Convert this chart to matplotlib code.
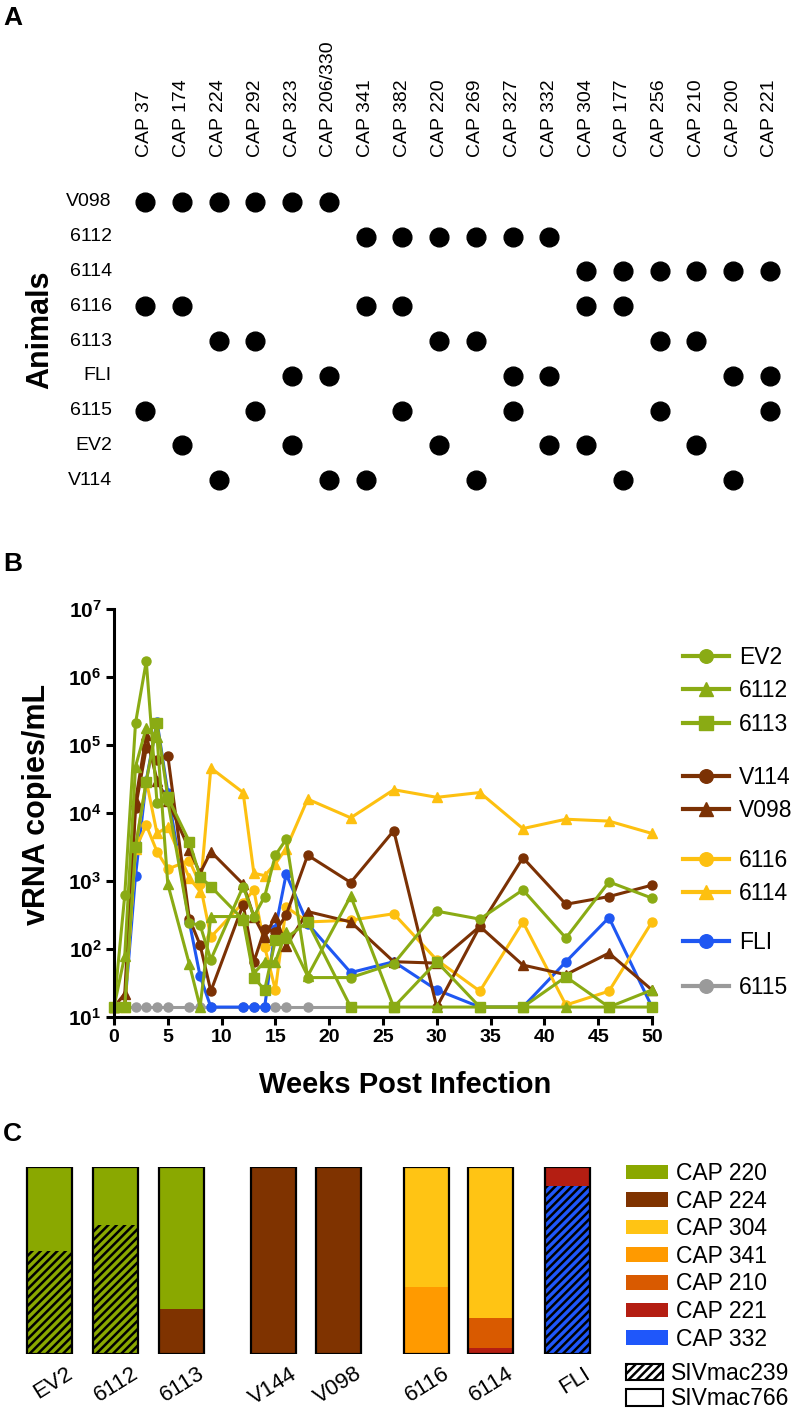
import matplotlib
matplotlib.use('Agg')
import matplotlib.pyplot as plt
from matplotlib.patches import Patch

plt.rcParams['font.family'] = ['Liberation Sans', 'DejaVu Sans']
plt.rcParams['mathtext.fontset'] = 'custom'
plt.rcParams['mathtext.rm'] = 'Liberation Sans'
plt.rcParams['mathtext.bf'] = 'Liberation Sans:bold'
plt.rcParams['hatch.linewidth'] = 1.8

# ---------------- panel A data ----------------
caps = ['CAP 37', 'CAP 174', 'CAP 224', 'CAP 292', 'CAP 323', 'CAP 206/330',
        'CAP 341', 'CAP 382', 'CAP 220', 'CAP 269', 'CAP 327', 'CAP 332',
        'CAP 304', 'CAP 177', 'CAP 256', 'CAP 210', 'CAP 200', 'CAP 221']
animals = ['V098', '6112', '6114', '6116', '6113', 'FLI', '6115', 'EV2', 'V114']
caps_v098 = ['CAP 37', 'CAP 174', 'CAP 224', 'CAP 292', 'CAP 323', 'CAP 206/330']
caps_6112 = ['CAP 341', 'CAP 382', 'CAP 220', 'CAP 269', 'CAP 327', 'CAP 332']
caps_6114 = ['CAP 304', 'CAP 177', 'CAP 256', 'CAP 210', 'CAP 200', 'CAP 221']
caps_6116 = ['CAP 37', 'CAP 174', 'CAP 341', 'CAP 382', 'CAP 304', 'CAP 177']
caps_6113 = ['CAP 224', 'CAP 292', 'CAP 220', 'CAP 269', 'CAP 256', 'CAP 210']
caps_fli = ['CAP 323', 'CAP 206/330', 'CAP 327', 'CAP 332', 'CAP 200', 'CAP 221']
caps_6115 = ['CAP 37', 'CAP 292', 'CAP 382', 'CAP 327', 'CAP 256', 'CAP 221']
caps_ev2 = ['CAP 174', 'CAP 323', 'CAP 220', 'CAP 332', 'CAP 304', 'CAP 210']
caps_v114 = ['CAP 224', 'CAP 206/330', 'CAP 341', 'CAP 269', 'CAP 177', 'CAP 200']
received = [caps_v098, caps_6112, caps_6114, caps_6116, caps_6113,
            caps_fli, caps_6115, caps_ev2, caps_v114]

# ---------------- panel B data ----------------
weeks = [0, 1, 2, 3, 4, 5, 7, 8, 9, 12, 13, 14, 15, 16, 18, 22, 26, 30, 34, 38, 42, 46, 50]
weeks_6115 = [0, 1, 2, 3, 4, 5, 7, 8, 9, 12, 13, 14, 15, 16, 18, 22]
vl_ev2 = [14, 620, 2.1e5, 1.7e6, 1.4e4, 1.5e4, 240, 225, 70, 830, 300, 590, 2400, 4100,
          38, 38, 61, 360, 275, 740, 145, 970, 560]
vl_6112 = [14, 80, 4.8e4, 1.8e5, 1.3e5, 900, 60, 14, 300, 300, 44, 65, 65, 180,
           40, 600, 14, 14, 14, 14, 14, 14, 25]
vl_6113 = [14, 14, 3200, 2.9e4, 2.1e5, 1.7e4, 3800, 1150, 830, 270, 38, 25, 135, 145,
           250, 14, 14, 65, 14, 14, 39, 14, 14]
vl_v114 = [14, 14, 1.2e4, 9e4, 6e4, 7e4, 280, 115, 24, 450, 65, 195, 180, 316,
           2400, 950, 5500, 14, 215, 2200, 455, 590, 870]
vl_v098 = [14, 22, 1.5e4, 1.4e5, 3e4, 1.5e4, 2900, 1300, 2700, 900, 300, 150, 300, 110,
           355, 250, 65, 62, 215, 58, 42, 87, 25]
vl_6116 = [14, 14, 3000, 6600, 2700, 1500, 2000, 900, 150, 480, 740, 108, 25, 415,
           250, 265, 330, 69, 24, 250, 15, 24, 250]
vl_6114 = [14, 14, 3000, 3e4, 5000, 6300, 1100, 700, 4.6e4, 2e4, 1300, 1200, 1800, 3000,
           1.6e4, 8500, 2.2e4, 1.7e4, 2e4, 5900, 8100, 7600, 5000]
vl_fli = [14, 14, 1200, 3e4, 2.2e5, 2e4, 250, 40, 14, 14, 14, 14, 200, 1260,
          235, 45, 65, 25, 14, 14, 65, 290, 14]
vl_6115 = [14, 14, 14, 14, 14, 14, 14, 14, 14, 14, 14, 14, 14, 14, 14, 14]

# ---------------- panel C data ----------------
c_animals = ['EV2', '6112', '6113', 'V144', 'V098', '6116', '6114', 'FLI']
comp_ev2 = [('CAP 220', 'SIVmac239', 55), ('CAP 220', 'SIVmac766', 45)]
comp_6112 = [('CAP 220', 'SIVmac239', 69), ('CAP 220', 'SIVmac766', 31)]
comp_6113 = [('CAP 224', 'SIVmac766', 24), ('CAP 220', 'SIVmac766', 76)]
comp_v144 = [('CAP 224', 'SIVmac766', 100)]
comp_v098 = [('CAP 224', 'SIVmac766', 100)]
comp_6116 = [('CAP 341', 'SIVmac766', 36), ('CAP 304', 'SIVmac766', 64)]
comp_6114 = [('CAP 221', 'SIVmac766', 3), ('CAP 210', 'SIVmac766', 16), ('CAP 304', 'SIVmac766', 81)]
comp_fli = [('CAP 332', 'SIVmac239', 90), ('CAP 221', 'SIVmac766', 10)]
compositions = [comp_ev2, comp_6112, comp_6113, comp_v144, comp_v098, comp_6116, comp_6114, comp_fli]
legend_caps = ['CAP 220', 'CAP 224', 'CAP 304', 'CAP 341', 'CAP 210', 'CAP 221', 'CAP 332']

GREEN = '#8aab14'
BROWN = '#7b3104'
YELLOW = '#fdc010'
BLUE = '#1f57f2'
GRAY = '#9a9a9a'
cap_colors = {'CAP 220': '#8aa800', 'CAP 224': '#7f3300', 'CAP 304': '#ffc414',
              'CAP 341': '#ff9a00', 'CAP 210': '#d95a00', 'CAP 221': '#b41e12',
              'CAP 332': '#1f57fa'}

W, H = 800, 1414
fig = plt.figure(figsize=(W / 100, H / 100), dpi=100)


def box(l, t, r, b):
    return [l / W, 1 - b / H, (r - l) / W, (b - t) / H]


# ================= panel A =================
axA = fig.add_axes(box(126.6, 184.6, 788.3, 497.4))
axA.set_xlim(-0.5, 17.5)
axA.set_ylim(8.5, -0.5)
axA.axis('off')
for j, (name, got) in enumerate(zip(animals, received)):
    xs = [caps.index(c) for c in got]
    axA.plot(xs, [j] * len(xs), 'o', color='black', markersize=13.5, clip_on=False)
    axA.text(-0.9, j, name, ha='right', va='center', fontsize=14)
for i, c in enumerate(caps):
    axA.text(i, -1.3, c, rotation=90, ha='center', va='bottom', fontsize=14)
fig.text(40 / W, 1 - 330 / H, 'Animals', rotation=90, ha='center', va='center',
         fontsize=22, fontweight='bold')

# ================= panel B =================
axB = fig.add_axes(box(114, 609, 652, 1017))
series = [
    ('6115', weeks_6115, vl_6115, GRAY, 'o'),
    ('FLI', weeks, vl_fli, BLUE, 'o'),
    ('6114', weeks, vl_6114, YELLOW, '^'),
    ('6116', weeks, vl_6116, YELLOW, 'o'),
    ('V098', weeks, vl_v098, BROWN, '^'),
    ('V114', weeks, vl_v114, BROWN, 'o'),
    ('6113', weeks, vl_6113, GREEN, 's'),
    ('6112', weeks, vl_6112, GREEN, '^'),
    ('EV2', weeks, vl_ev2, GREEN, 'o'),
]
handles = {}
for name, x, y, col, mk in series:
    ln, = axB.plot(x, y, marker=mk, color=col, lw=2.2, markersize=6.5, clip_on=False, label=name)
    handles[name] = ln
axB.set_yscale('log')
axB.set_xlim(0, 50)
axB.set_ylim(10, 1e7)
axB.set_xticks(range(0, 51, 5))
axB.set_xticklabels([str(v) for v in range(0, 51, 5)], fontsize=14, fontweight='bold')
axB.set_yticks([10 ** k for k in range(1, 8)])
axB.set_yticklabels([r'$\mathbf{10^{%d}}$' % k for k in range(1, 8)], fontsize=15)
axB.minorticks_off()
for s in ['top', 'right']:
    axB.spines[s].set_visible(False)
for s in ['left', 'bottom']:
    axB.spines[s].set_linewidth(2.2)
axB.tick_params(width=2.2, length=6, pad=3)
axB.set_xlabel('Weeks Post Infection', fontsize=21, fontweight='bold')
axB.xaxis.set_label_coords((405 - 114) / 538, -(1071 - 1017) / 408)
axB.set_ylabel('vRNA copies/mL', fontsize=22, fontweight='bold')
axB.yaxis.set_label_coords((52 - 114) / 538, (1017 - 804) / 408)

groups = [(['EV2', '6112', '6113'], 660), (['V114', 'V098'], 780), (['6116', '6114'], 863),
          (['FLI'], 945), (['6115'], 990)]
for names, ytop in groups:
    lg = fig.legend([handles[n] for n in names], names, loc='upper left',
                    bbox_to_anchor=(683 / W, 1 - (ytop - 14) / H), frameon=False,
                    fontsize=16.5, handlelength=2.0, handletextpad=0.45, labelspacing=0.45,
                    borderpad=0, borderaxespad=0, markerscale=1.5)
    for l in lg.get_lines():
        l.set_linewidth(3)

# ================= panel C =================
bar_x = [0, 1.01, 2.01, 3.42, 4.41, 5.76, 6.73, 7.91]
bar_w = 0.687
axC = fig.add_axes(box(0, 1167, 800, 1354))
axC.set_xlim(-0.756, 11.46)
axC.set_ylim(0, 100)
axC.axis('off')
for x, comp, name in zip(bar_x, compositions, c_animals):
    bottom = 0
    for cap, strain, pct in comp:
        axC.bar(x, pct, bar_w, bottom=bottom, color=cap_colors[cap],
                hatch='////' if strain == 'SIVmac239' else None,
                edgecolor='black', linewidth=0)
        bottom += pct
    axC.bar(x, bottom, bar_w, fill=False, edgecolor='black', linewidth=1.6)
    axC.text(x + 0.24, -5, name, rotation=32, ha='right', va='top',
             rotation_mode='anchor', fontsize=16)

fig.legend([Patch(facecolor=cap_colors[c]) for c in legend_caps], legend_caps,
           loc='upper left', bbox_to_anchor=(626 / W, 1 - 1162 / H), frameon=False,
           fontsize=16.5, handlelength=1.85, handleheight=0.6, handletextpad=0.35,
           labelspacing=0.2, borderpad=0, borderaxespad=0)
fig.legend([Patch(facecolor='white', edgecolor='black', hatch='////', linewidth=1.5),
            Patch(facecolor='white', edgecolor='black', linewidth=1.5)],
           ['SIVmac239', 'SIVmac766'], loc='upper left',
           bbox_to_anchor=(626 / W, 1 - 1362 / H), frameon=False,
           fontsize=16.5, handlelength=1.6, handleheight=0.75, handletextpad=0.35,
           labelspacing=0.1, borderpad=0, borderaxespad=0)

# panel letters
fig.text(3 / W, 1 - 6 / H, 'A', fontsize=19, fontweight='bold', va='top')
fig.text(3 / W, 1 - 552 / H, 'B', fontsize=19, fontweight='bold', va='top')
fig.text(3 / W, 1 - 1122 / H, 'C', fontsize=19, fontweight='bold', va='top')

fig.savefig('out.png', dpi=100)
